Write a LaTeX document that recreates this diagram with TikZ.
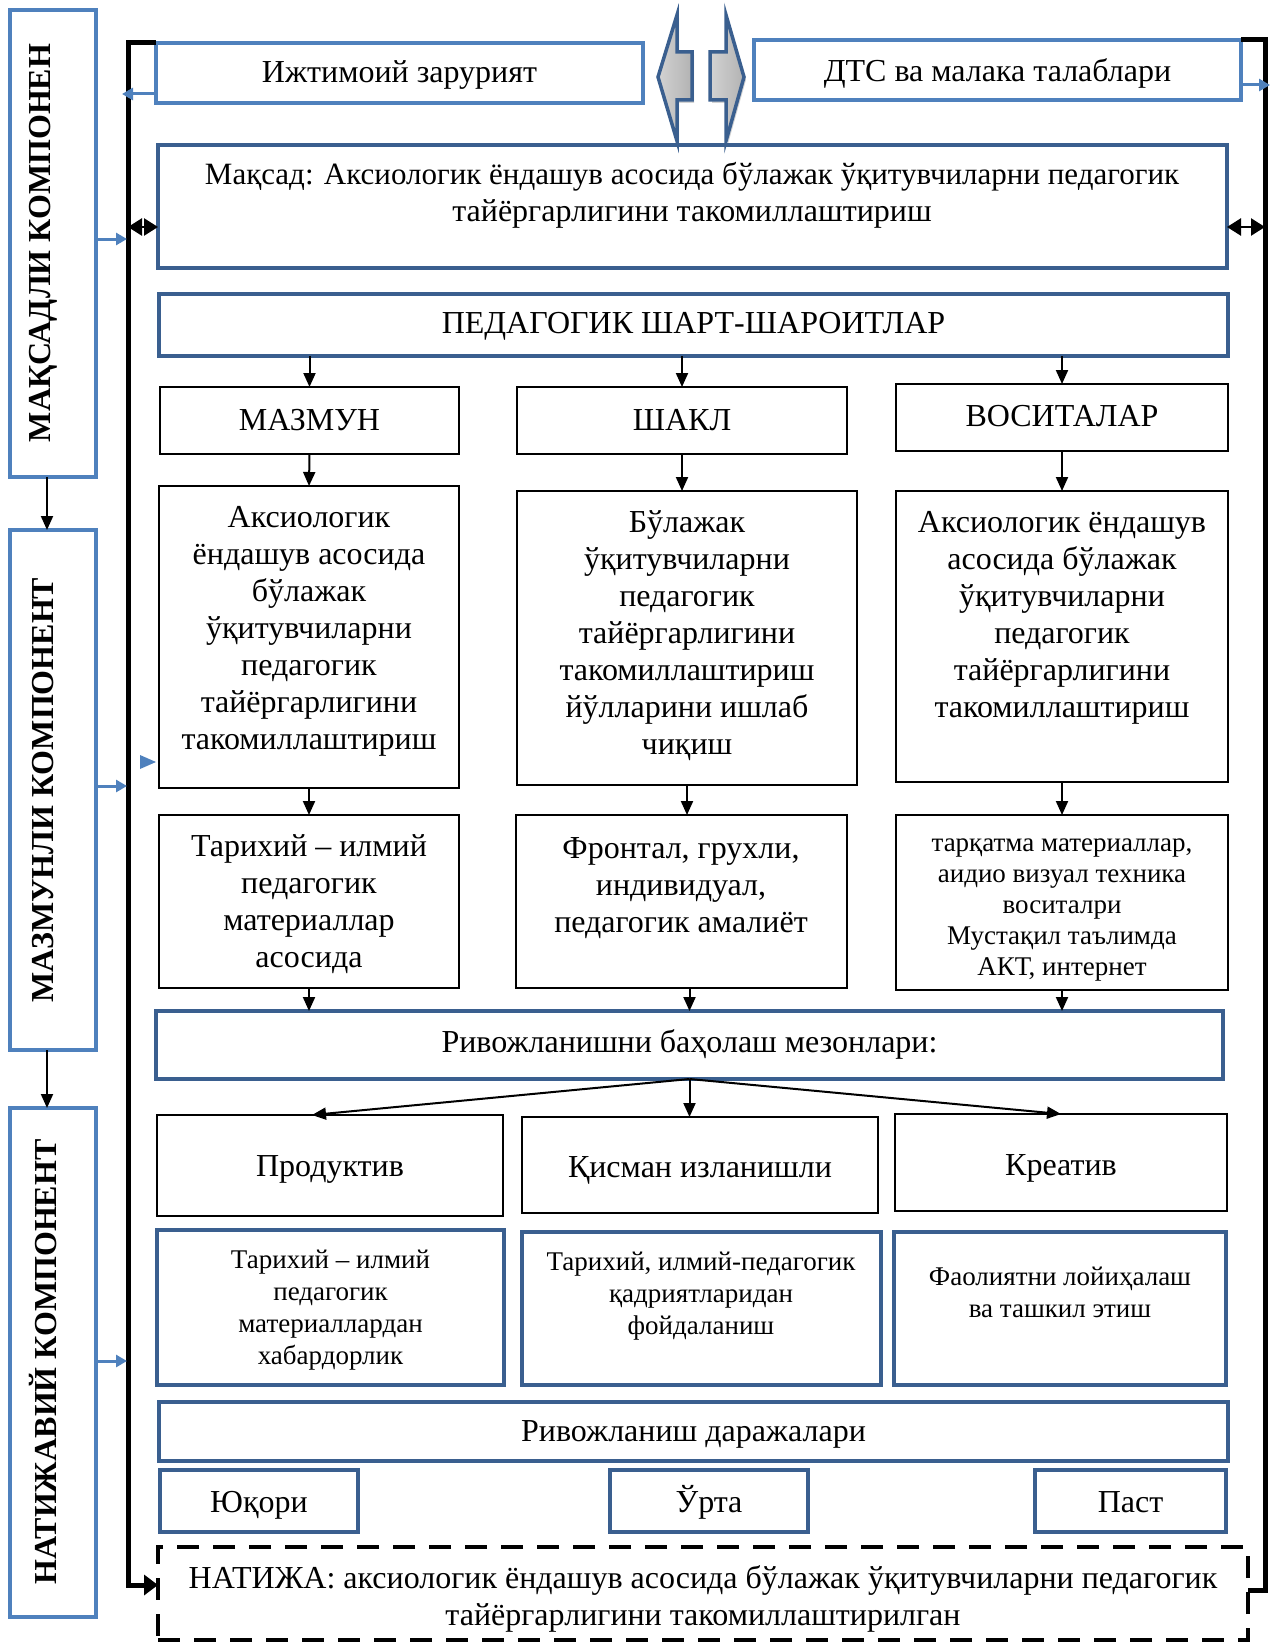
\documentclass[tikz,border=0pt]{standalone}
\usepackage{fontspec}
\setmainfont{Liberation Serif}
\usetikzlibrary{arrows.meta,fit,shadings,shadows}
\definecolor{lblue}{HTML}{4F81BD}
\definecolor{dblue}{HTML}{3A5F8F}
\begin{document}
\begin{tikzpicture}[x=1pt,y=-1pt,
  every node/.style={inner sep=0pt, outer sep=0pt, font=\fontsize{32}{37}\selectfont, align=center},
  lbox/.style={draw=lblue, line width=3.5pt},
  dbox/.style={draw=dblue, line width=4pt},
  kbox/.style={draw=black, line width=2.2pt},
  sidebox/.style={draw=lblue, line width=4pt},
  arr/.style={draw=black, line width=2pt, -{Triangle[length=14pt,width=12pt]}},
  dbl/.style={draw=black, line width=2.5pt, {Triangle[length=14pt,width=17pt]}-{Triangle[length=14pt,width=17pt]}},
  barr/.style={draw=lblue, line width=3pt, -{Triangle[length=11pt,width=12pt]}},
  brk/.style={draw=black, line width=5pt},
  small/.style={font=\fontsize{27}{31}\selectfont},
  side/.style={font=\fontsize{32}{36}\bfseries\selectfont, rotate=90},
  one/.style={anchor=base},
  blockarr/.style={draw=dblue, line width=3.5pt, left color=gray!35, middle color=white, right color=gray!60,
    drop shadow={shadow xshift=2pt, shadow yshift=-3pt, opacity=0.35, fill=gray}},
]
\useasboundingbox (0,0) rectangle (1271,1651);

% side boxes
\node[sidebox, fit={(10,10) (96,477)}] (s1) {};
\node[side] (s1t) at (43,243) {МАҚСАДЛИ КОМПОНЕН};
\node[sidebox, fit={(10,530) (96,1050)}] (s2) {};
\node[side] (s2t) at (43,790) {МАЗМУНЛИ КОМПОНЕНТ};
\node[sidebox, fit={(10,1108) (96,1617)}] (s3) {};
\node[side] (s3t) at (43,1362) {НАТИЖАВИЙ КОМПОНЕНТ};
\draw[arr] ([xshift=-6pt]s1.south) -- ([xshift=-6pt]s2.north);
\draw[arr] ([xshift=-6pt]s2.south) -- ([xshift=-6pt]s3.north);

% top row
\node[lbox, fit={(156,43) (643,103)}] (ijt) {};
\node[one] (ijtt) at ([yshift=-10pt]ijt.center) {Ижтимоий зарурият};
\node[lbox, fit={(754,40) (1241,100)}] (dts) {};
\node[one] (dtst) at ([yshift=-11.5pt]dts.center) {ДТС ва малака талаблари};
\shadedraw[blockarr] (677,15) -- (677,52) -- (692,52) -- (692,100) -- (677,100) -- (677,141) -- (658,77) -- cycle;
\shadedraw[blockarr] (726,15) -- (726,52) -- (710,52) -- (710,100) -- (726,100) -- (726,141) -- (744,77) -- cycle;

% goal
\node[dbox, fit={(158,145) (1227,268)}] (maq) {};
\node[anchor=north] (maqt) at (692,162) {\fontsize{31}{32.5}\selectfont Мақсад: Аксиологик ёндашув асосида бўлажак ўқитувчиларни педагогик\\тайёргарлигини такомиллаштириш};

\node[dbox, fit={(159,294) (1228,356)}] (ped) {};
\node[one] (pedt) at ([yshift=-8.5pt]ped.center) {ПЕДАГОГИК ШАРТ-ШАРОИТЛАР};

\node[kbox, fit={(160,387) (459,454)}] (mazmun) {};
\node[one] (mazmunt) at ([yshift=-10pt]mazmun.center) {МАЗМУН};
\node[kbox, fit={(517,387) (847,454)}] (shakl) {};
\node[one] (shaklt) at ([yshift=-10pt]shakl.center) {ШАКЛ};
\node[kbox, fit={(896,384) (1228,451)}] (vos) {};
\node[one] (vost) at ([yshift=-9pt]vos.center) {ВОСИТАЛАР};

\node[kbox, fit={(159,486) (459,788)}] (a1) {};
\node[anchor=north] (a1t) at (309,506) {Аксиологик\\ёндашув асосида\\бўлажак\\ўқитувчиларни\\педагогик\\тайёргарлигини\\такомиллаштириш};
\node[kbox, fit={(517,491) (857,785)}] (b1) {};
\node[anchor=north] (b1t) at (687,511) {Бўлажак\\ўқитувчиларни\\педагогик\\тайёргарлигини\\такомиллаштириш\\йўлларини ишлаб\\чиқиш};
\node[kbox, fit={(896,491) (1228,782)}] (c1) {};
\node[anchor=north] (c1t) at (1062,511) {Аксиологик ёндашув\\асосида бўлажак\\ўқитувчиларни\\педагогик\\тайёргарлигини\\такомиллаштириш};

\node[kbox, fit={(159,815) (459,988)}] (a2) {};
\node (a2t) at ([yshift=-3pt]a2.center) {Тарихий – илмий\\педагогик\\материаллар\\асосида};
\node[kbox, fit={(516,815) (847,988)}] (b2) {};
\node[anchor=north] (b2t) at (681,838) {Фронтал, грухли,\\индивидуал,\\педагогик амалиёт};
\node[kbox, fit={(896,815) (1228,990)}] (c2) {};
\node[small] (c2t) at ([yshift=-8pt]c2.center) {тарқатма материаллар,\\аидио визуал техника\\воситалри\\Мустақил таълимда\\АКТ, интернет};

\draw[arr] (ped.south -| mazmun) -- (mazmun.north);
\draw[arr] (ped.south -| shakl) -- (shakl.north);
\draw[arr] (ped.south -| vos) -- (vos.north);
\draw[arr] (mazmun.south) -- (a1.north);
\draw[arr] (shakl.south) -- (shakl.south |- b1.north);
\draw[arr] (vos.south) -- (c1.north);
\draw[arr] (a1.south) -- (a2.north);
\draw[arr] (b1.south) -- (b1.south |- b2.north);
\draw[arr] (c1.south) -- (c2.north);

\node[dbox, fit={(156,1011) (1223,1079)}] (rivoj) {};
\node[one] (rivojt) at ([yshift=-7.5pt]rivoj.center) {Ривожланишни баҳолаш мезонлари:};
\draw[arr] (a2.south) -- (a2.south |- rivoj.north);
\draw[arr] ([xshift=8pt]b2.south) -- ([xshift=8pt]b2.south |- rivoj.north);
\draw[arr] (c2.south) -- (c2.south |- rivoj.north);

\node[kbox, fit={(157,1115) (503,1216)}] (prod) {};
\node[one] (prodt) at ([yshift=-11pt]prod.center) {Продуктив};
\node[kbox, fit={(522,1117) (878,1213)}] (qis) {};
\node[one] (qist) at ([yshift=-12.5pt]qis.center) {Қисман изланишли};
\node[kbox, fit={(895,1114) (1227,1211)}] (kre) {};
\node[one] (kret) at ([yshift=-13pt]kre.center) {Креатив};
\draw[arr] (rivoj.south) -- ([xshift=-18pt]prod.north);
\draw[arr] (rivoj.south) -- (rivoj.south |- qis.north);
\draw[arr] (rivoj.south) -- (kre.north);

\node[dbox, fit={(157,1230) (504,1385)}] (m1) {};
\node[font=\fontsize{27}{32}\selectfont] (m1t) at ([yshift=-3pt]m1.center) {Тарихий – илмий\\педагогик\\материаллардан\\хабардорлик};
\node[dbox, fit={(522,1232) (881,1385)}] (m2) {};
\node[anchor=north, font=\fontsize{27}{32}\selectfont] (m2t) at (701,1252) {Тарихий, илмий-педагогик\\қадриятларидан\\фойдаланиш};
\node[dbox, fit={(894,1232) (1226,1385)}] (m3) {};
\node[anchor=north, font=\fontsize{27}{32}\selectfont] (m3t) at (1060,1267) {Фаолиятни лойиҳалаш\\ва ташкил этиш};

\node[dbox, fit={(159,1402) (1228,1461)}] (dar) {};
\node[one] (dart) at ([yshift=-10pt]dar.center) {Ривожланиш даражалари};
\node[dbox, fit={(160,1470) (358,1532)}] (yuq) {};
\node[one] (yuqt) at ([yshift=-11pt]yuq.center) {Юқори};
\node[dbox, fit={(610,1470) (808,1532)}] (urta) {};
\node[one] (urtat) at ([yshift=-11pt]urta.center) {Ўрта};
\node[dbox, fit={(1035,1470) (1226,1532)}] (past) {};
\node[one] (pastt) at ([yshift=-11pt]past.center) {Паст};

\node[draw=black, line width=4.5pt, dash pattern=on 22pt off 14pt, fit={(158,1547) (1248,1640)}] (nat) {};
\node[anchor=north] (natt) at (703,1566) {\fontsize{32}{36}\selectfont НАТИЖА: аксиологик ёндашув асосида бўлажак ўқитувчиларни педагогик\\тайёргарлигини такомиллаштирилган};

% bracket
\coordinate (LT) at (128,43);
\coordinate (LB) at (128,1585);
\coordinate (RT) at (1265,40);
\coordinate (RB) at (1265,1590);
\draw[brk, -{Triangle[length=14pt,width=20pt]}] (ijt.north west) -- (LT) -- (LB) -- (LB -| nat.west);
\draw[brk] (dts.north east) -- (RT) -- (RB) -- (RB -| nat.east);

\coordinate (ML) at (128,227);
\coordinate (MR) at (1265,227);
\draw[dbl] (ML) -- (ML -| maq.west);
\draw[dbl] (MR -| maq.east) -- (MR);

% blue arrows
\coordinate (ijtA) at (122,94);
\draw[barr] (ijtA -| ijt.west) -- (ijtA);
\coordinate (dtsA) at (1270,85);
\draw[barr] (dtsA -| dts.east) -- (dtsA);
\coordinate (s1A) at (127,239);
\draw[barr] (s1A -| s1.east) -- (s1A);
\coordinate (s2A) at (127,786);
\draw[barr] (s2A -| s2.east) -- (s2A);
\coordinate (s3A) at (127,1361);
\draw[barr] (s3A -| s3.east) -- (s3A);
\fill[lblue] (140,755) -- (156,762) -- (140,769) -- cycle;
\end{tikzpicture}
\end{document}
